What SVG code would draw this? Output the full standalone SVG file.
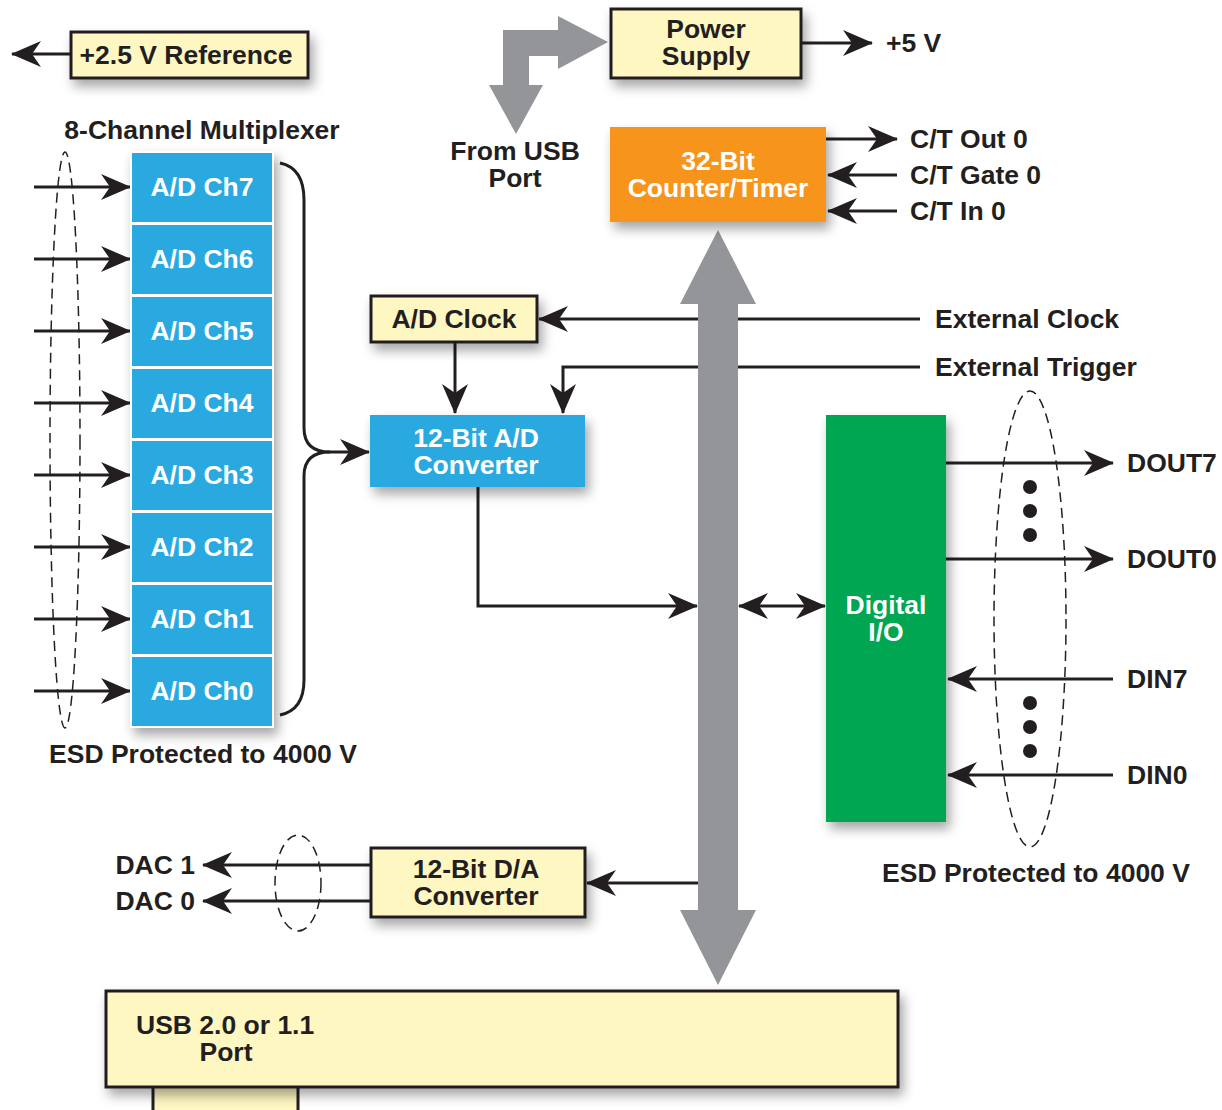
<svg xmlns="http://www.w3.org/2000/svg" width="1222" height="1110" viewBox="0 0 1222 1110">
<style>
text{font-family:"Liberation Sans",Arial,sans-serif;font-weight:bold;font-size:26.5px;fill:#231f20}
.w{fill:#fff}
.c{text-anchor:middle}
.ylw{fill:#fff7c2;stroke:#231f20;stroke-width:3}
.blu{fill:#29a9e0}
.ch{fill:#29a9e0;stroke:#fff;stroke-width:2}
.ln{fill:none;stroke:#231f20;stroke-width:3}
.dash{fill:none;stroke:#231f20;stroke-width:1.5;stroke-dasharray:10 6}
.bus{fill:#939598}
</style>
<defs>
<filter id="sh" x="-20%" y="-20%" width="150%" height="160%">
<feDropShadow dx="4" dy="7" stdDeviation="6" flood-color="#000" flood-opacity="0.35"/>
</filter>
<marker id="ah" viewBox="0 0 30 26" refX="29" refY="13" markerWidth="30" markerHeight="26" markerUnits="userSpaceOnUse" orient="auto-start-reverse">
<path d="M0,0 L30,13 L0,26 L9,13 z" fill="#231f20"/>
</marker>
</defs>

<g id="connectors">
<line class="ln" x1="71" y1="54" x2="12" y2="54" marker-end="url(#ah)"/>
<line class="ln" x1="801" y1="43" x2="872" y2="43" marker-end="url(#ah)"/>
<line class="ln" x1="826" y1="139" x2="897" y2="139" marker-end="url(#ah)"/>
<line class="ln" x1="897" y1="175" x2="828" y2="175" marker-end="url(#ah)"/>
<line class="ln" x1="897" y1="211" x2="828" y2="211" marker-end="url(#ah)"/>
<line class="ln" x1="34" y1="187" x2="130" y2="187" marker-end="url(#ah)"/>
<line class="ln" x1="34" y1="259" x2="130" y2="259" marker-end="url(#ah)"/>
<line class="ln" x1="34" y1="331" x2="130" y2="331" marker-end="url(#ah)"/>
<line class="ln" x1="34" y1="403" x2="130" y2="403" marker-end="url(#ah)"/>
<line class="ln" x1="34" y1="475" x2="130" y2="475" marker-end="url(#ah)"/>
<line class="ln" x1="34" y1="547" x2="130" y2="547" marker-end="url(#ah)"/>
<line class="ln" x1="34" y1="619" x2="130" y2="619" marker-end="url(#ah)"/>
<line class="ln" x1="34" y1="691" x2="130" y2="691" marker-end="url(#ah)"/>
<ellipse class="dash" cx="65" cy="440" rx="15" ry="288"/>
<path class="ln" d="M280,163 Q304,168 304,200 L304,428 Q304,452 330,452"/>
<path class="ln" d="M280,715 Q304,710 304,680 L304,476 Q304,452 330,452 L369,452" marker-end="url(#ah)"/>
<line class="ln" x1="920" y1="319" x2="539" y2="319" marker-end="url(#ah)"/>
<path class="ln" d="M920,367 L563,367 L563,413" marker-end="url(#ah)"/>
<line class="ln" x1="455" y1="342" x2="455" y2="413" marker-end="url(#ah)"/>
<path class="ln" d="M478,487 L478,606 L697,606" marker-end="url(#ah)"/>
<line class="ln" x1="700" y1="883" x2="587" y2="883" marker-end="url(#ah)"/>
<line class="ln" x1="371" y1="865" x2="203" y2="865" marker-end="url(#ah)"/>
<line class="ln" x1="371" y1="901" x2="203" y2="901" marker-end="url(#ah)"/>
<ellipse class="dash" cx="298" cy="883" rx="23" ry="48"/>
<path class="bus" d="M718,230 L756,304 L738,304 L738,910 L756,910 L718,985 L680,910 L698,910 L698,304 L680,304 z"/>
<path class="bus" d="M503,85 L503,30 L558,30 L558,16 L608,42 L558,69 L558,56 L529,56 L529,85 L543,85 L516,134 L489,85 z"/>
<line class="ln" x1="739" y1="606" x2="825" y2="606" marker-start="url(#ah)" marker-end="url(#ah)"/>
<line class="ln" x1="946" y1="463" x2="1113" y2="463" marker-end="url(#ah)"/>
<line class="ln" x1="946" y1="559" x2="1113" y2="559" marker-end="url(#ah)"/>
<line class="ln" x1="1113" y1="679" x2="948" y2="679" marker-end="url(#ah)"/>
<line class="ln" x1="1113" y1="775" x2="948" y2="775" marker-end="url(#ah)"/>
<ellipse class="dash" cx="1030" cy="619" rx="36" ry="228"/>
<g fill="#231f20">
<circle cx="1030" cy="487" r="7"/><circle cx="1030" cy="511" r="7"/><circle cx="1030" cy="535" r="7"/>
<circle cx="1030" cy="703" r="7"/><circle cx="1030" cy="727" r="7"/><circle cx="1030" cy="751" r="7"/>
</g>
</g>

<g id="ref"><rect class="ylw" x="71" y="32" width="237" height="46" filter="url(#sh)"/><text x="186" y="64" class="c">+2.5 V Reference</text></g>
<g id="power"><rect class="ylw" x="611" y="9" width="190" height="69" filter="url(#sh)"/><text x="706" y="38" class="c">Power</text><text x="706" y="65" class="c">Supply</text></g>
<g id="ct"><rect x="610" y="127" width="216" height="95" fill="#f7941d" filter="url(#sh)"/><text x="718" y="170" class="c w">32-Bit</text><text x="718" y="197" class="c w">Counter/Timer</text></g>
<g id="mux">
<text x="202" y="139" class="c">8-Channel Multiplexer</text>
<g filter="url(#sh)">
<rect class="ch" x="131" y="152" width="142" height="71"/>
<rect class="ch" x="131" y="224" width="142" height="71"/>
<rect class="ch" x="131" y="296" width="142" height="71"/>
<rect class="ch" x="131" y="368" width="142" height="71"/>
<rect class="ch" x="131" y="440" width="142" height="71"/>
<rect class="ch" x="131" y="512" width="142" height="71"/>
<rect class="ch" x="131" y="584" width="142" height="71"/>
<rect class="ch" x="131" y="656" width="142" height="71"/>
</g>
<text x="202" y="196" class="c w">A/D Ch7</text>
<text x="202" y="268" class="c w">A/D Ch6</text>
<text x="202" y="340" class="c w">A/D Ch5</text>
<text x="202" y="412" class="c w">A/D Ch4</text>
<text x="202" y="484" class="c w">A/D Ch3</text>
<text x="202" y="556" class="c w">A/D Ch2</text>
<text x="202" y="628" class="c w">A/D Ch1</text>
<text x="202" y="700" class="c w">A/D Ch0</text>
<text x="203" y="763" class="c">ESD Protected to 4000 V</text>
</g>
<g id="adclk"><rect class="ylw" x="371" y="296" width="166" height="46" filter="url(#sh)"/><text x="454" y="328" class="c">A/D Clock</text></g>
<g id="adc"><rect class="blu" x="370" y="415" width="215" height="72" filter="url(#sh)"/><text x="476" y="447" class="c w">12-Bit A/D</text><text x="476" y="474" class="c w">Converter</text></g>
<g id="dio"><rect x="826" y="415" width="120" height="407" fill="#00a651" filter="url(#sh)"/><text x="886" y="614" class="c w">Digital</text><text x="886" y="641" class="c w">I/O</text></g>
<g id="dac"><rect class="ylw" x="371" y="848" width="214" height="69" filter="url(#sh)"/><text x="476" y="878" class="c">12-Bit D/A</text><text x="476" y="905" class="c">Converter</text></g>
<g id="usb">
<rect class="ylw" x="153" y="1070" width="145" height="45" fill="#e8dfa8"/>
<rect class="ylw" x="106" y="991" width="792" height="96" filter="url(#sh)"/>
<text x="136" y="1034">USB 2.0 or 1.1</text><text x="226" y="1061" class="c">Port</text>
</g>
<g id="labels">
<text x="886" y="52">+5 V</text>
<text x="515" y="160" class="c">From USB</text><text x="515" y="187" class="c">Port</text>
<text x="910" y="148">C/T Out 0</text>
<text x="910" y="184">C/T Gate 0</text>
<text x="910" y="220">C/T In 0</text>
<text x="935" y="328">External Clock</text>
<text x="935" y="376">External Trigger</text>
<text x="1127" y="472">DOUT7</text>
<text x="1127" y="568">DOUT0</text>
<text x="1127" y="688">DIN7</text>
<text x="1127" y="784">DIN0</text>
<text x="1036" y="882" class="c">ESD Protected to 4000 V</text>
<text x="195" y="874" text-anchor="end">DAC 1</text>
<text x="195" y="910" text-anchor="end">DAC 0</text>
</g>
</svg>
